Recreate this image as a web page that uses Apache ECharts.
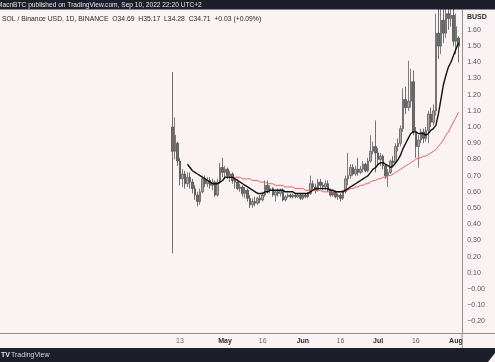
<!DOCTYPE html>
<html>
<head>
<meta charset="utf-8">
<script src="https://cdn.jsdelivr.net/npm/echarts@6/dist/echarts.min.js"></script>
<style>
html,body{margin:0;padding:0;background:#fbf3f3;}
#c{width:495px;height:362px;}
</style>
</head>
<body>
<div id="c"></div>
<script>
// ---- data ----
const axisStart = '2022-02-01';
const axisEnd = '2022-08-03';
const candleStart = '2022-04-10';
// [open, close, low, high]
const ohlc = [
[1.00,0.85,0.22,1.34],[0.85,0.95,0.80,1.06],[0.90,0.79,0.76,0.91],[0.79,0.68,0.64,0.81],[0.68,0.71,0.63,0.74],
[0.71,0.65,0.62,0.73],[0.65,0.69,0.63,0.72],[0.69,0.66,0.62,0.72],[0.66,0.62,0.59,0.68],[0.62,0.58,0.55,0.64],
[0.58,0.54,0.51,0.60],[0.54,0.60,0.52,0.62],[0.60,0.68,0.59,0.70],[0.68,0.65,0.63,0.70],[0.65,0.67,0.63,0.69],
[0.67,0.64,0.62,0.69],[0.64,0.66,0.61,0.68],[0.66,0.58,0.57,0.67],[0.58,0.66,0.57,0.68],[0.66,0.75,0.65,0.78],
[0.75,0.72,0.69,0.81],[0.72,0.74,0.69,0.76],[0.74,0.70,0.68,0.75],[0.70,0.71,0.66,0.73],[0.71,0.67,0.65,0.72],
[0.67,0.66,0.62,0.69],[0.66,0.62,0.61,0.68],[0.62,0.63,0.60,0.65],[0.63,0.59,0.57,0.64],[0.59,0.61,0.56,0.63],
[0.61,0.56,0.54,0.62],[0.56,0.52,0.50,0.58],[0.52,0.54,0.50,0.56],[0.54,0.53,0.51,0.57],[0.53,0.56,0.52,0.57],
[0.56,0.55,0.53,0.58],[0.55,0.58,0.54,0.60],[0.58,0.64,0.57,0.67],[0.64,0.61,0.59,0.67],[0.61,0.62,0.59,0.64],
[0.62,0.58,0.57,0.63],[0.58,0.60,0.54,0.61],[0.60,0.59,0.57,0.62],[0.59,0.61,0.57,0.62],[0.61,0.55,0.54,0.62],
[0.55,0.57,0.54,0.58],[0.57,0.58,0.56,0.59],[0.58,0.57,0.56,0.59],[0.57,0.58,0.56,0.59],[0.58,0.57,0.56,0.59],
[0.57,0.58,0.56,0.59],[0.58,0.56,0.55,0.59],[0.56,0.58,0.55,0.59],[0.58,0.57,0.56,0.59],[0.57,0.59,0.56,0.60],
[0.59,0.65,0.58,0.70],[0.65,0.63,0.61,0.67],[0.63,0.61,0.59,0.65],[0.61,0.66,0.60,0.68],[0.66,0.64,0.62,0.68],
[0.64,0.63,0.61,0.66],[0.63,0.65,0.61,0.67],[0.65,0.61,0.60,0.67],[0.61,0.58,0.57,0.62],[0.58,0.60,0.57,0.61],
[0.60,0.57,0.56,0.61],[0.57,0.58,0.55,0.59],[0.58,0.56,0.54,0.59],[0.56,0.60,0.55,0.61],[0.60,0.68,0.59,0.70],
[0.68,0.70,0.64,0.84],[0.70,0.75,0.68,0.77],[0.75,0.71,0.70,0.77],[0.71,0.74,0.70,0.76],[0.74,0.72,0.70,0.81],
[0.72,0.74,0.71,0.76],[0.74,0.77,0.72,0.79],[0.77,0.73,0.72,0.78],[0.73,0.79,0.72,0.81],[0.79,0.85,0.78,0.95],
[0.85,0.88,0.83,0.91],[0.88,0.84,0.72,1.04],[0.84,0.80,0.76,0.87],[0.80,0.82,0.76,0.84],[0.82,0.76,0.74,0.83],
[0.76,0.70,0.68,0.77],[0.70,0.72,0.63,0.74],[0.72,0.79,0.71,0.80],[0.79,0.78,0.75,0.82],[0.78,0.88,0.77,0.90],
[0.88,0.90,0.85,0.93],[0.90,0.99,0.88,1.01],[0.99,1.17,0.97,1.24],[1.17,1.12,1.08,1.25],[1.12,1.16,1.10,1.41],
[1.16,1.28,1.12,1.36],[1.28,0.97,0.95,1.35],[0.97,0.88,0.81,1.00],[0.88,0.92,0.75,0.95],[0.92,0.97,0.90,0.99],
[0.97,0.93,0.90,0.99],[0.93,0.98,0.91,1.00],[0.98,1.08,0.90,1.10],[1.08,1.03,1.00,1.12],[1.03,1.10,1.01,1.14],
[1.10,1.58,1.07,1.70],[1.58,1.50,1.42,1.74],[1.50,1.66,1.45,1.80],[1.66,1.58,1.52,1.78],[1.58,1.70,1.55,1.85],
[1.70,1.67,1.60,1.80],[1.67,1.69,1.62,1.82],[1.69,1.53,1.50,1.74],[1.53,1.62,1.45,1.70],[1.55,1.50,1.40,1.56]
];
const maFastStart = '2022-04-16';
const maFast = [
0.77,0.75,0.73,0.72,0.71,0.70,0.69,0.68,0.67,0.66,0.65,0.65,0.65,0.66,0.67,0.69,0.69,0.69,0.69,0.68,
0.67,0.66,0.65,0.64,0.63,0.62,0.61,0.60,0.59,0.59,0.59,0.60,0.60,0.61,0.61,0.61,0.61,0.61,0.61,0.60,
0.60,0.60,0.60,0.59,0.59,0.59,0.59,0.59,0.59,0.60,0.61,0.62,0.62,0.62,0.62,0.62,0.62,0.61,0.61,0.60,
0.60,0.60,0.60,0.61,0.62,0.63,0.64,0.65,0.66,0.67,0.68,0.69,0.70,0.72,0.74,0.75,0.77,0.78,0.78,0.77,
0.76,0.75,0.76,0.78,0.80,0.83,0.87,0.90,0.93,0.96,0.97,0.97,0.96,0.96,0.96,0.95,0.96,0.98,0.99,1.01,
1.08,1.17,1.26,1.32,1.37,1.40,1.44,1.48,1.52
];
const maSlowStart = '2022-05-04';
const maSlow = [
0.69,0.69,0.69,0.69,0.68,0.68,0.68,0.68,0.67,0.67,0.67,0.66,0.66,0.66,0.65,0.65,0.65,0.64,0.64,0.64,
0.64,0.63,0.63,0.63,0.63,0.62,0.62,0.62,0.62,0.61,0.61,0.61,0.61,0.61,0.61,0.61,0.60,0.60,0.60,0.60,
0.60,0.60,0.60,0.60,0.61,0.61,0.61,0.62,0.62,0.63,0.63,0.64,0.64,0.65,0.65,0.66,0.67,0.67,0.68,0.68,
0.69,0.69,0.70,0.70,0.71,0.72,0.73,0.74,0.75,0.76,0.77,0.78,0.79,0.80,0.81,0.81,0.82,0.82,0.83,0.84,
0.85,0.86,0.88,0.90,0.92,0.95,0.97,1.00,1.03,1.06,1.09
];
const yTicks = [-0.2,-0.1,0,0.1,0.2,0.3,0.4,0.5,0.6,0.7,0.8,0.9,1.0,1.1,1.2,1.3,1.4,1.5,1.6];
const xTickLabels = {
  '2022-04-13':'13','2022-05-01':'May','2022-05-16':'16','2022-06-01':'Jun',
  '2022-06-16':'16','2022-07-01':'Jul','2022-07-16':'16','2022-08-01':'Aug'
};
const headerText = 'MacnBTC published on TradingView.com, Sep 10, 2022 22:20 UTC+2';
const legendText = 'SOL / Binance USD, 1D, BINANCE  O34.69  H35.17  L34.28  C34.71  +0.03 (+0.09%)';

// ---- build ----
function fmt(d){return d.toISOString().slice(0,10);}
const categories = [];
for (let d = new Date(axisStart+'T00:00:00Z'); fmt(d) <= axisEnd; d.setUTCDate(d.getUTCDate()+1)) categories.push(fmt(d));
function place(start, arr){
  const out = categories.map(()=> '-');
  const s = categories.indexOf(start);
  arr.forEach((v,i)=>{ out[s+i] = v; });
  return out;
}
const candleData = place(candleStart, ohlc);
const fastData = place(maFastStart, maFast);
const slowData = place(maSlowStart, maSlow);

const FONT = 'Liberation Sans, Arial, sans-serif';
const chart = echarts.init(document.getElementById('c'), null, {renderer:'canvas'});
chart.setOption({
  backgroundColor: '#fbf3f3',
  animation: false,
  grid: {left: 0.5, right: 32.8, top: 10, bottom: 29},
  xAxis: {
    type: 'category', data: categories, boundaryGap: true,
    axisLine: {onZero: false, lineStyle: {color: '#8f8f8f', width: 1}},
    axisTick: {show: false},
    splitLine: {show: false},
    axisLabel: {
      interval: (idx, val) => Object.prototype.hasOwnProperty.call(xTickLabels, val),
      formatter: (val) => {
        const t = xTickLabels[val] || '';
        return /^[A-Z]/.test(t) ? '{b|' + t + '}' : '{n|' + t + '}';
      },
      margin: 5,
      rich: {
        b: {fontSize: 7, fontWeight: 'bold', color: '#2a2a2a', fontFamily: FONT},
        n: {fontSize: 7, color: '#6a6a6a', fontFamily: FONT}
      }
    }
  },
  yAxis: {
    type: 'value', position: 'right', min: -0.272, max: 1.723, scale: true,
    axisLine: {show: true, lineStyle: {color: '#8f8f8f', width: 1}},
    axisTick: {show: false},
    splitLine: {show: false},
    axisLabel: {
      customValues: yTicks,
      formatter: (v) => (v <= 0 ? '\u2212' + Math.abs(v).toFixed(2) : v.toFixed(2)),
      margin: 5, fontSize: 7, color: '#555', fontFamily: FONT
    }
  },
  series: [
    {
      type: 'candlestick', data: candleData, barWidth: 2, clip: true,
      itemStyle: {color: '#a9a9a9', color0: '#6e6e6e', borderColor: '#5e5e5e', borderColor0: '#4e4e4e', borderWidth: 0.8}
    },
    {
      type: 'line', data: slowData, showSymbol: false, symbol: 'none', clip: true,
      lineStyle: {color: '#e0645c', width: 1}, z: 3
    },
    {
      type: 'line', data: fastData, showSymbol: false, symbol: 'none', clip: true,
      lineStyle: {color: '#111111', width: 1.4}, z: 4
    }
  ],
  graphic: [
    {type: 'rect', shape: {x: 0, y: 0, width: 495, height: 9.5}, style: {fill: '#1c1f29'}, z: 100},
    {type: 'text', x: -3, y: 5, style: {text: headerText, fill: '#e6e6e6', font: '6.6px ' + FONT, textVerticalAlign: 'middle'}, z: 101},
    {type: 'text', x: 2, y: 19, style: {text: legendText, fill: '#2b2b2b', font: '6.8px ' + FONT, textVerticalAlign: 'middle'}, z: 101},
    {type: 'text', x: 467, y: 17.5, style: {text: 'BUSD', fill: '#2b2b2b', font: 'bold 7px ' + FONT, textVerticalAlign: 'middle'}, z: 101},
    {type: 'line', shape: {x1: 462.2, y1: 333, x2: 462.2, y2: 348}, style: {stroke: '#8f8f8f', lineWidth: 1}, z: 50},
    {type: 'line', shape: {x1: 462.2, y1: 333.5, x2: 495, y2: 333.5}, style: {stroke: '#8f8f8f', lineWidth: 1}, z: 50},
    {type: 'rect', shape: {x: 0, y: 348, width: 495, height: 14}, style: {fill: '#1c1f29'}, z: 100},
    {type: 'text', x: 1, y: 355, style: {text: 'TV', fill: '#e6e6e6', font: 'bold 7px ' + FONT, textVerticalAlign: 'middle'}, z: 101},
    {type: 'text', x: 11, y: 355, style: {text: 'TradingView', fill: '#d6d6d6', font: '7px ' + FONT, textVerticalAlign: 'middle'}, z: 101},
    {type: 'polygon', shape: {points: [[495, 353], [495, 362], [488, 362]]}, style: {fill: '#fbf3f3'}, z: 101}
  ]
});
</script>
</body>
</html>
